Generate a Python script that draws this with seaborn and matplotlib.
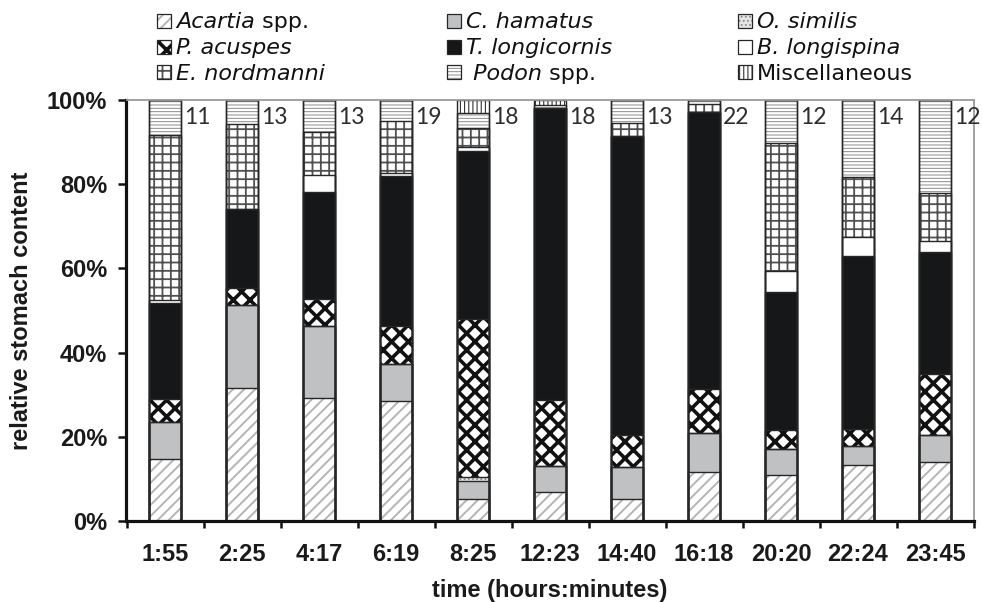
import numpy as np
import pandas as pd
import matplotlib
matplotlib.use("Agg")
import matplotlib.pyplot as plt
from matplotlib.patches import Rectangle
from matplotlib.ticker import MultipleLocator, FixedLocator, FuncFormatter
import seaborn as sns

# ---------------- data (percent of stomach content) ----------------
times = ["1:55", "2:25", "4:17", "6:19", "8:25", "12:23", "14:40", "16:18", "20:20", "22:24", "23:45"]
n_fish = [11, 13, 13, 19, 18, 18, 13, 22, 12, 14, 12]

acartia       = [14.7, 31.5, 29.1, 28.6,  5.2,  6.8,  5.2, 11.6, 10.9, 13.4, 13.9]
c_hamatus     = [ 8.7, 19.8, 17.2,  8.6,  4.4,  6.3,  7.7,  9.4,  6.2,  4.4,  6.5]
o_similis     = [ 0.0,  0.0,  0.0,  0.0,  0.9,  0.0,  0.0,  0.0,  0.0,  0.0,  0.0]
p_acuspes     = [ 5.6,  4.0,  6.4,  9.0, 37.4, 15.6,  7.5, 10.4,  4.5,  4.1, 14.5]
t_longicornis = [22.7, 18.8, 25.4, 35.7, 40.0, 69.3, 71.1, 65.8, 32.9, 41.0, 28.9]
b_longispina  = [ 0.8,  0.0,  4.2,  0.7,  1.0,  0.0,  0.0,  0.0,  5.0,  4.5,  2.7]
e_nordmanni   = [39.2, 20.1, 10.2, 12.5,  4.4,  0.0,  3.0,  1.8, 30.2, 14.2, 11.3]
podon         = [ 8.3,  5.8,  7.5,  4.9,  3.5,  0.8,  5.5,  1.0, 10.3, 18.4, 22.2]
misc          = [ 0.0,  0.0,  0.0,  0.0,  3.2,  1.2,  0.0,  0.0,  0.0,  0.0,  0.0]

# legend labels as (text, font style) pieces
species_labels = [
    [("Acartia", "italic"), (" spp.", "normal")],
    [("C. hamatus", "italic")],
    [("O. similis", "italic")],
    [("P. acuspes", "italic")],
    [("T. longicornis", "italic")],
    [("B. longispina", "italic")],
    [("E. nordmanni", "italic")],
    [(" Podon", "italic"), (" spp.", "normal")],
    [("Miscellaneous", "normal")],
]
series = [acartia, c_hamatus, o_similis, p_acuspes, t_longicornis,
          b_longispina, e_nordmanni, podon, misc]

# ---------------- styles ----------------
# (facecolor, hatch, hatch colour, hatch linewidth)
styles = [
    ("white",   "///",   "#b4b4b4", 1.4),
    ("#c0c1c3", "",      "#c0c1c3", 1.0),
    ("#e4e4e4", "....",  "#8a8a8a", 0.8),
    ("white",   "xx",    "#111111", 2.6),
    ("#161719", "",      "#161719", 1.0),
    ("white",   "",      "white",   1.0),
    ("white",   "++",    "#505050", 1.3),
    ("white",   "-----", "#8a8a8a", 0.7),
    ("white",   "||||",  "#333333", 0.8),
]

sns.set_theme(style="white")
plt.rcParams["font.family"] = ["Liberation Sans", "DejaVu Sans"]
plt.rcParams["hatch.linewidth"] = 1.0

W, H = 982, 602
fig = plt.figure(figsize=(W / 100, H / 100), dpi=100)
fig.patch.set_facecolor("white")
ax = fig.add_axes([126.5 / W, (H - 521) / H, 847 / W, 421 / H])
ax.set_facecolor("white")

stack = np.array(series)
cum = np.cumsum(stack, axis=0)
BAR_W = 0.41


def set_hlw(p, lw):
    if hasattr(p, "set_hatch_linewidth"):
        p.set_hatch_linewidth(lw)


# fills, drawn from the top segment downwards so lower segments overlay
for k in reversed(range(len(series))):
    fc, hatch, hc, hlw = styles[k]
    sns.barplot(x=times, y=cum[k], order=times, ax=ax, width=BAR_W,
                color=fc, saturation=1, errorbar=None)
    for p in ax.containers[-1]:
        p.set_facecolor(fc)
        p.set_edgecolor(hc)
        p.set_linewidth(0)
        if hatch:
            p.set_hatch(hatch)
            set_hlw(p, hlw)

# outlines of every segment boundary
for k in range(len(series)):
    sns.barplot(x=times, y=cum[k], order=times, ax=ax, width=BAR_W,
                color="#222222", saturation=1, errorbar=None)
    for p in ax.containers[-1]:
        p.set_facecolor("none")
        p.set_edgecolor("#262626")
        p.set_linewidth(1.0)

# sample sizes
for i, n in enumerate(n_fish):
    ax.text(i + 0.245, 95.9, str(n), fontsize=16.5, family=["Lato", "DejaVu Sans"],
            fontweight="normal", color="#2e2e2e", ha="left", va="center")

# axes styling
ax.set_xlim(-0.5, len(times) - 0.5)
ax.set_ylim(0, 100)
ax.yaxis.set_major_locator(MultipleLocator(20))
ax.yaxis.set_major_formatter(FuncFormatter(lambda v, _: f"{v:.0f}%"))
ax.xaxis.set_minor_locator(FixedLocator(np.arange(-0.5, len(times), 1.0)))
ax.set_xticks(range(len(times)))
ax.set_xticklabels(times)

for s in ["left", "bottom"]:
    ax.spines[s].set_color("#111111")
    ax.spines[s].set_linewidth(2.3)
for s in ["top", "right"]:
    ax.spines[s].set_color("#9a9a9a")
    ax.spines[s].set_linewidth(1.3)
    ax.spines[s].set_visible(True)

ax.tick_params(axis="y", which="major", direction="out", length=6, width=1.8,
               color="#111111", pad=8, labelsize=17, left=True)
ax.tick_params(axis="x", which="major", length=0, pad=16, labelsize=17, bottom=True)
ax.tick_params(axis="x", which="minor", direction="out", length=5, width=1.8,
               color="#111111", bottom=True)
for lab in ax.get_xticklabels() + ax.get_yticklabels():
    lab.set_fontweight("bold")
    lab.set_color("#1a1a1a")

ax.set_xlabel("time (hours:minutes)", fontsize=17, fontweight="bold", color="#1a1a1a")
ax.set_ylabel("relative stomach content", fontsize=17, fontweight="bold", color="#1a1a1a")
ax.xaxis.set_label_coords(0.5, -0.137)
ax.yaxis.set_label_coords(-0.110, 0.5)

# legend (three fixed columns, column-major like the original)
renderer = fig.canvas.get_renderer()
legend_order = [0, 3, 6, 1, 4, 7, 2, 5, 8]
col_x = [157, 447, 738]
row_y = [21, 47, 72]
MS = 14
for idx, k in enumerate(legend_order):
    c, r = divmod(idx, 3)
    x0, yc = col_x[c], row_y[r]
    fc, hatch, hc, hlw = styles[k]
    rect = Rectangle((x0 / W, 1 - (yc + MS / 2) / H), MS / W, MS / H,
                     transform=fig.transFigure, facecolor=fc, edgecolor=hc,
                     linewidth=0, hatch=hatch if hatch else None)
    set_hlw(rect, hlw)
    fig.add_artist(rect)
    fig.add_artist(Rectangle((x0 / W, 1 - (yc + MS / 2) / H), MS / W, MS / H,
                             transform=fig.transFigure, facecolor="none",
                             edgecolor="#262626", linewidth=0.9))
    xt = x0 + MS + 5
    for piece, style in species_labels[k]:
        t = fig.text(xt / W, 1 - (yc + 7.5) / H, piece, fontsize=16,
                     family=["DejaVu Sans"], style=style, color="#111111",
                     ha="left", va="baseline")
        xt += t.get_window_extent(renderer).width

fig.savefig("out.png", dpi=100, facecolor="white")
